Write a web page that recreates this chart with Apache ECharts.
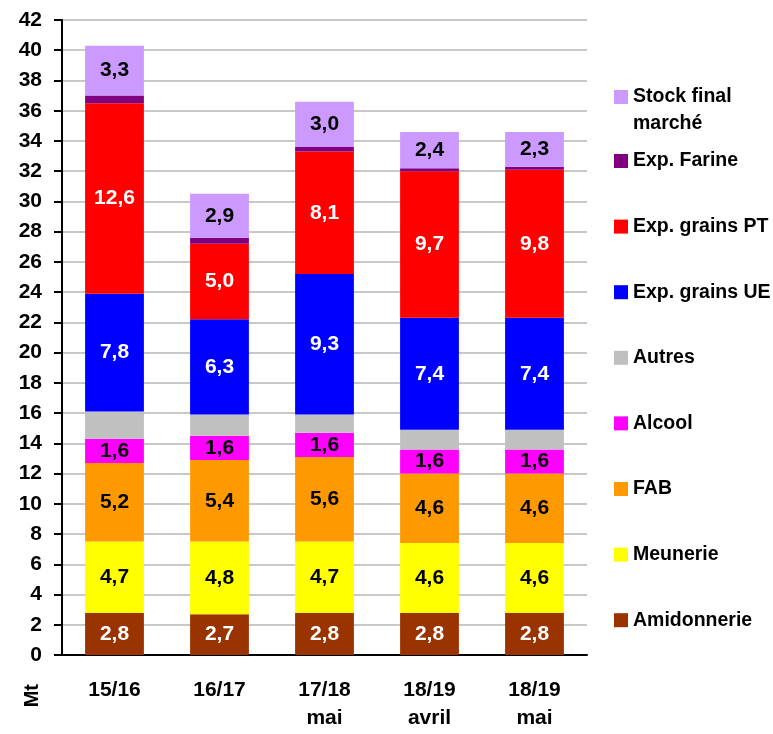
<!DOCTYPE html>
<html><head><meta charset="utf-8">
<script src="https://cdn.jsdelivr.net/npm/echarts@6/dist/echarts.min.js"></script>
<style>html,body{margin:0;padding:0;background:#fff}#c{width:773px;height:734px}</style>
</head><body><div id="c"></div>
<script>
const categories = ['15/16', '16/17', '17/18\nmai', '18/19\navril', '18/19\nmai'];
const amidonnerie = [2.8, 2.7, 2.8, 2.8, 2.8];
const meunerie = [4.7, 4.8, 4.7, 4.6, 4.6];
const fab = [5.2, 5.4, 5.6, 4.6, 4.6];
const alcool = [1.6, 1.6, 1.6, 1.6, 1.6];
const autres = [1.8, 1.4, 1.2, 1.3, 1.3];
const expUE = [7.8, 6.3, 9.3, 7.4, 7.4];
const expPT = [12.6, 5.0, 8.1, 9.7, 9.8];
const expFarine = [0.5, 0.4, 0.3, 0.2, 0.2];
const stock = [3.3, 2.9, 3.0, 2.4, 2.3];
const yTicks = {min: 0, max: 42, interval: 2};

const FONT = '"Liberation Sans", Arial, sans-serif';
const fmt = p => p.value.toFixed(1).replace('.', ',');
function mk(name, data, color, labelColor) {
  return {
    name, type: 'bar', stack: 'a', data, barWidth: '56%',
    itemStyle: {color},
    label: labelColor ? {show: true, position: 'inside', formatter: fmt, color: labelColor,
      fontFamily: FONT, fontWeight: 'bold', fontSize: 21} : {show: false},
    emphasis: {disabled: true}
  };
}
const series = [
  mk('Amidonnerie', amidonnerie, '#993300', '#fff'),
  mk('Meunerie', meunerie, '#FFFF00', '#000'),
  mk('FAB', fab, '#FF9900', '#000'),
  mk('Alcool', alcool, '#FF00FF', '#000'),
  mk('Autres', autres, '#C0C0C0', null),
  mk('Exp. grains UE', expUE, '#0000FF', '#fff'),
  mk('Exp. grains PT', expPT, '#FF0000', '#fff'),
  mk('Exp. Farine', expFarine, '#800080', null),
  mk('Stock final marché', stock, '#CC99FF', '#000')
];
const chart = echarts.init(document.getElementById('c'));
const legendText = {fontFamily: FONT, fontWeight: 'bold', fontSize: 19.5, color: '#000'};
chart.setOption({
  animation: false,
  grid: {left: 62, right: 186, top: 20, bottom: 79},
  xAxis: {
    type: 'category', data: categories,
    axisLine: {lineStyle: {color: '#000', width: 2}},
    axisTick: {show: false},
    axisLabel: {fontFamily: FONT, fontWeight: 'bold', fontSize: 21, color: '#000', margin: 21, lineHeight: 28}
  },
  yAxis: {
    type: 'value', min: yTicks.min, max: yTicks.max, interval: yTicks.interval,
    axisLine: {show: true, lineStyle: {color: '#000', width: 2}},
    axisTick: {show: true, length: 8, lineStyle: {color: '#000', width: 2}},
    splitLine: {lineStyle: {color: '#C8C8C8', width: 2}},
    axisLabel: {fontFamily: FONT, fontWeight: 'bold', fontSize: 21, color: '#000', margin: 20}
  },
  legend: [
    {
      orient: 'vertical', left: 609, top: 78, selectedMode: false,
      itemWidth: 14, itemHeight: 40, itemGap: 10,
      data: [{name: 'Stock final marché', icon: 'path://M0,0L14,0L14,14L0,14Z M0,40'}],
      formatter: () => 'Stock final\nmarché',
      textStyle: Object.assign({lineHeight: 27}, legendText)
    },
    {
      orient: 'vertical', left: 609, top: 146, selectedMode: false,
      itemWidth: 14, itemHeight: 14, itemGap: 45.6,
      data: ['Exp. Farine', 'Exp. grains PT', 'Exp. grains UE', 'Autres', 'Alcool', 'FAB', 'Meunerie', 'Amidonnerie'].map(n => ({name: n, icon: 'rect'})),
      textStyle: Object.assign({lineHeight: 20}, legendText)
    }
  ],
  graphic: [{
    type: 'text', left: 22, top: 684, rotation: Math.PI / 2,
    style: {text: 'Mt', fontFamily: FONT, fontWeight: 'bold', fontSize: 20, fill: '#000'}
  }],
  series
});
</script></body></html>
